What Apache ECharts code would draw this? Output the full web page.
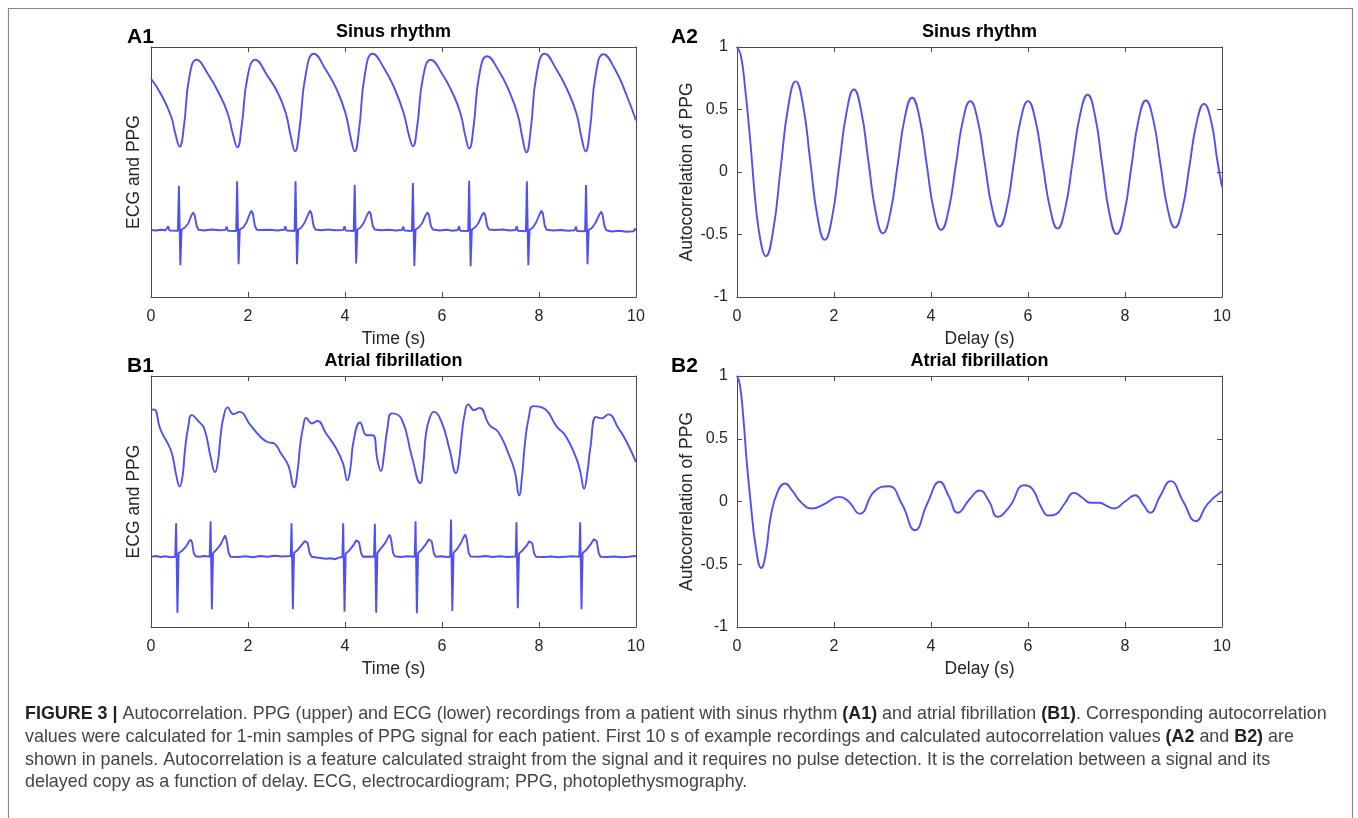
<!DOCTYPE html>
<html>
<head>
<meta charset="utf-8">
<title>Figure 3 - Autocorrelation</title>
<script src="https://cdn.jsdelivr.net/npm/echarts@6/dist/echarts.min.js"></script>
<style>
  html, body { margin: 0; padding: 0; background: #fff; }
  #chart { width: 1358px; height: 818px; }
</style>
</head>
<body>
<div id="chart"></div>
<script>
// time axis ticks (s), shared by all four panels
var timeTicks = [0, 2, 4, 6, 8, 10];
var corrTicks = [-1, -0.5, 0, 0.5, 1];

// A1: sinus rhythm, PPG (upper) and ECG (lower), arbitrary units 0-100
var sinusPpg = [
  [0, 87.3], [0.2, 81.3], [0.41, 72.5], [0.5, 65.5], [0.59, 60.2],
  [0.68, 68.5], [0.79, 88], [0.94, 94.9], [1.18, 89], [1.4, 81.5], [1.58, 73.5], [1.69, 65], [1.78, 59.9],
  [1.87, 68.5], [1.99, 88], [2.15, 94.9], [2.4, 88.5], [2.62, 81.5], [2.78, 73.5], [2.88, 64.5], [2.97, 58.3],
  [3.06, 67], [3.19, 89], [3.36, 97.3], [3.6, 91], [3.83, 83], [4.01, 73.5], [4.12, 63.5], [4.2, 58.3],
  [4.29, 67], [4.41, 89], [4.57, 97.3], [4.82, 91], [5.03, 83], [5.21, 73.5], [5.32, 64.5], [5.4, 60.3],
  [5.49, 68.5], [5.61, 88], [5.77, 94.9], [6.01, 89], [6.22, 81.5], [6.38, 73.5], [6.48, 64.5], [6.56, 59.4],
  [6.65, 68], [6.77, 89], [6.93, 96.3], [7.17, 90.5], [7.38, 82.5], [7.56, 73], [7.66, 63.5], [7.74, 57.8],
  [7.83, 67], [7.95, 89], [8.12, 97.3], [8.36, 91], [8.58, 83], [8.77, 73.5], [8.88, 63.5], [8.96, 58.3],
  [9.05, 67], [9.17, 89], [9.33, 97.1], [9.57, 91], [9.8, 81], [10, 70.6]
];
var sinusEcg = [
  [0, 26.8], [0.1, 26.6], [0.2, 26.9], [0.3, 26.7], [0.33, 26.9], [0.355, 28.3], [0.38, 26.6], [0.555, 26.5],
  [0.575, 44.5], [0.605, 12.7], [0.63, 27.0], [0.7, 27.8], [0.77, 29.5], [0.83, 32.5], [0.87, 33.8], [0.9, 32.8], [0.94, 28.5], [0.98, 26.9],
  [1.1, 26.6], [1.25, 27.0], [1.4, 26.7], [1.53, 26.8], [1.56, 28.2], [1.585, 26.5], [1.756, 26.4],
  [1.776, 46.3], [1.806, 13.1], [1.831, 27.0], [1.9, 27.8], [1.97, 29.8], [2.03, 33.0], [2.07, 34.5], [2.1, 33.4], [2.14, 28.6], [2.18, 26.9],
  [2.3, 26.8], [2.45, 26.9], [2.6, 26.6], [2.745, 26.9], [2.77, 28.3], [2.795, 26.6], [2.96, 26.4],
  [2.98, 46.3], [3.01, 13.1], [3.035, 27.0], [3.1, 27.8], [3.17, 29.8], [3.24, 33.0], [3.28, 34.5], [3.31, 33.4], [3.35, 28.6], [3.39, 27.0],
  [3.5, 26.7], [3.65, 27.0], [3.8, 26.7], [3.965, 26.8], [3.99, 28.3], [4.015, 26.6], [4.18, 26.4],
  [4.2, 44.9], [4.23, 13.4], [4.255, 27.0], [4.32, 27.8], [4.39, 29.8], [4.46, 33.0], [4.5, 34.2], [4.53, 33.2], [4.57, 28.6], [4.61, 27.0],
  [4.75, 26.7], [4.9, 26.9], [5.05, 26.6], [5.175, 26.8], [5.2, 28.2], [5.225, 26.6], [5.38, 26.4],
  [5.4, 45.6], [5.43, 12.4], [5.455, 27.0], [5.52, 27.8], [5.59, 29.5], [5.66, 32.6], [5.7, 33.8], [5.73, 32.8], [5.77, 28.5], [5.81, 27.0],
  [5.95, 26.6], [6.1, 26.9], [6.22, 26.5], [6.325, 26.8], [6.35, 28.3], [6.375, 26.5], [6.54, 26.4],
  [6.56, 46.5], [6.59, 12.3], [6.615, 27.0], [6.68, 27.8], [6.75, 29.5], [6.82, 32.6], [6.86, 33.8], [6.89, 32.8], [6.93, 28.5], [6.97, 27.0],
  [7.1, 26.8], [7.25, 27.0], [7.4, 26.6], [7.515, 26.8], [7.54, 28.3], [7.565, 26.5], [7.73, 26.3],
  [7.75, 46.3], [7.78, 12.7], [7.805, 26.9], [7.87, 27.7], [7.94, 29.8], [8.01, 33.0], [8.05, 34.5], [8.08, 33.4], [8.12, 28.4], [8.16, 26.9],
  [8.3, 26.6], [8.45, 26.8], [8.6, 26.5], [8.735, 26.7], [8.76, 28.2], [8.785, 26.4], [8.95, 26.3],
  [8.97, 44.8], [9.0, 13.1], [9.025, 26.8], [9.09, 27.6], [9.16, 29.5], [9.24, 32.8], [9.28, 34.1], [9.31, 33.0], [9.35, 28.3], [9.39, 26.7],
  [9.5, 26.2], [9.65, 26.5], [9.8, 26.1], [9.95, 26.3], [9.98, 27.3], [10, 26.6]
];

// A2: autocorrelation of PPG, sinus rhythm
var sinusCorr = [
  [0, 1.0], [0.08, 0.93], [0.165, 0.68], [0.28, 0.22], [0.39, -0.28], [0.5, -0.58], [0.59, -0.674],
  [0.745, -0.47], [0.9, 0.03], [1.055, 0.52], [1.21, 0.725],
  [1.36, 0.54], [1.51, 0.09], [1.66, -0.36], [1.81, -0.543],
  [1.96, -0.365], [2.11, 0.06], [2.26, 0.48], [2.41, 0.66],
  [2.56, 0.49], [2.71, 0.085], [2.86, -0.32], [3.01, -0.49],
  [3.16, -0.33], [3.31, 0.05], [3.46, 0.435], [3.61, 0.594],
  [3.76, 0.44], [3.91, 0.066], [4.06, -0.31], [4.21, -0.463],
  [4.36, -0.31], [4.51, 0.05], [4.66, 0.416], [4.81, 0.567],
  [4.96, 0.42], [5.11, 0.066], [5.26, -0.29], [5.41, -0.436],
  [5.56, -0.29], [5.705, 0.066], [5.85, 0.42], [6.0, 0.567],
  [6.15, 0.42], [6.305, 0.058], [6.46, -0.30], [6.61, -0.452],
  [6.765, -0.295], [6.92, 0.083], [7.075, 0.46], [7.23, 0.618],
  [7.38, 0.454], [7.53, 0.06], [7.68, -0.334], [7.83, -0.497],
  [7.98, -0.34], [8.13, 0.038], [8.28, 0.416], [8.43, 0.572],
  [8.58, 0.423], [8.73, 0.064], [8.88, -0.295], [9.03, -0.444],
  [9.18, -0.3], [9.33, 0.05], [9.48, 0.40], [9.63, 0.545],
  [9.78, 0.40], [9.9, 0.1], [10, -0.118]
];

// B1: atrial fibrillation, PPG (upper) and ECG (lower)
var afibPpg = [
  [0, 86.4], [0.06, 86.7], [0.2, 78.4], [0.41, 70.4], [0.52, 60.5], [0.59, 56], [0.65, 60], [0.7, 70.4],
  [0.77, 80], [0.84, 84.4], [0.99, 81.7], [1.1, 79], [1.23, 67.7], [1.32, 61.7], [1.38, 66], [1.44, 77],
  [1.5, 84], [1.58, 87.5], [1.7, 84.8], [1.82, 85.7], [2.05, 80.4], [2.26, 75.7], [2.4, 73.7], [2.54, 73.1],
  [2.68, 69.1], [2.83, 64.4], [2.95, 55.7], [3.02, 62], [3.08, 73.1], [3.14, 80], [3.2, 83.3], [3.32, 81.1],
  [3.43, 82.1], [3.61, 77.1], [3.82, 71.1], [3.96, 65.1], [4.05, 58.4], [4.11, 63], [4.18, 74.4], [4.31, 81.5],
  [4.45, 76.4], [4.57, 76.4], [4.67, 66.4], [4.74, 62.1], [4.8, 68], [4.87, 78.4], [4.97, 85.1], [5.17, 82.7],
  [5.38, 67.7], [5.55, 57.3], [5.61, 64], [5.67, 77], [5.75, 83.5], [5.83, 85.7], [5.99, 81.7], [6.16, 70.4],
  [6.29, 61.3], [6.35, 66], [6.41, 77], [6.47, 85], [6.54, 88.7], [6.66, 86.4], [6.77, 87.3], [6.98, 80.4],
  [7.16, 77.7], [7.37, 69.1], [7.5, 62], [7.59, 52.4], [7.65, 60], [7.71, 73.1], [7.79, 83.5], [7.88, 88],
  [8.1, 87.1], [8.37, 79.7], [8.54, 76.4], [8.76, 67.7], [8.85, 62], [8.93, 55.1], [9.0, 62], [9.06, 71.7],
  [9.18, 83.7], [9.29, 83.1], [9.43, 84.7], [9.64, 79.1], [9.79, 74.4], [10, 65.7]
];
var afibEcg = [
  [0, 28.0], [0.1, 28.3], [0.2, 27.9], [0.3, 28.2], [0.4, 27.8], [0.5, 28.0],
  [0.518, 41.3], [0.545, 5.7], [0.57, 29.5], [0.65, 30.5], [0.72, 32.0], [0.78, 34.0], [0.82, 34.8], [0.85, 33.5], [0.88, 29.5], [0.92, 28.2],
  [1.0, 28.0], [1.1, 28.3], [1.21, 28.0],
  [1.229, 42.1], [1.255, 7.1], [1.28, 29.5], [1.36, 31.0], [1.44, 33.0], [1.5, 35.5], [1.53, 36.4], [1.56, 34.5], [1.6, 29.5], [1.64, 28.0],
  [1.8, 27.9], [1.95, 28.2], [2.1, 27.8], [2.25, 28.3], [2.4, 28.0], [2.55, 28.4], [2.7, 28.1], [2.88, 28.3],
  [2.898, 41.3], [2.925, 7.1], [2.95, 29.5], [3.03, 30.8], [3.1, 32.5], [3.17, 34.2], [3.2, 34.8], [3.23, 33.5], [3.27, 29.5], [3.31, 28.0],
  [3.45, 27.6], [3.6, 27.2], [3.7, 27.4], [3.8, 27.0], [3.9, 27.8], [3.945, 27.8],
  [3.963, 41.3], [3.99, 6.1], [4.015, 29.3], [4.09, 30.5], [4.17, 32.5], [4.23, 34.5], [4.26, 35.1], [4.29, 33.8], [4.33, 29.5], [4.37, 28.0],
  [4.5, 28.1], [4.598, 28.0],
  [4.616, 41.1], [4.643, 5.7], [4.668, 29.5], [4.75, 31.5], [4.83, 33.5], [4.89, 35.8], [4.92, 36.7], [4.95, 35.0], [4.99, 29.5], [5.03, 28.2],
  [5.15, 27.9], [5.3, 28.2], [5.437, 28.0],
  [5.455, 42.1], [5.482, 5.5], [5.507, 29.5], [5.58, 30.8], [5.66, 32.8], [5.73, 35.0], [5.76, 35.5], [5.79, 34.0], [5.83, 29.5], [5.87, 28.0],
  [6.0, 28.2], [6.1, 27.9], [6.168, 28.0],
  [6.186, 42.8], [6.213, 6.4], [6.238, 29.5], [6.31, 31.0], [6.39, 33.5], [6.45, 36.0], [6.48, 36.8], [6.51, 35.0], [6.55, 29.5], [6.59, 28.1],
  [6.75, 28.0], [6.9, 28.3], [7.05, 27.9], [7.2, 28.2], [7.35, 27.9], [7.518, 28.1],
  [7.536, 41.7], [7.563, 7.5], [7.588, 29.3], [7.66, 30.5], [7.74, 32.3], [7.8, 34.2], [7.83, 34.7], [7.86, 33.4], [7.9, 29.3], [7.94, 28.0],
  [8.1, 27.9], [8.25, 28.1], [8.4, 27.8], [8.55, 28.0], [8.7, 28.2], [8.831, 28.0],
  [8.849, 41.7], [8.876, 7.1], [8.9, 29.5], [8.98, 30.8], [9.06, 32.8], [9.13, 35.0], [9.16, 35.7], [9.19, 34.2], [9.23, 29.5], [9.27, 28.0],
  [9.4, 27.9], [9.55, 28.1], [9.7, 27.8], [9.85, 28.0], [9.98, 28.3], [10, 28.2]
];

// B2: autocorrelation of PPG, atrial fibrillation
var afibCorr = [
  [0, 1.0], [0.06, 0.93], [0.13, 0.67], [0.2, 0.32], [0.28, 0.0], [0.39, -0.37], [0.5, -0.53], [0.6, -0.4],
  [0.69, -0.13], [0.84, 0.08], [0.99, 0.144], [1.15, 0.08], [1.33, -0.01], [1.55, -0.056], [1.8, -0.02],
  [2.11, 0.037], [2.3, 0.0], [2.53, -0.098], [2.83, 0.08], [3.13, 0.122], [3.4, -0.02], [3.67, -0.229],
  [3.92, -0.02], [4.18, 0.157], [4.37, 0.04], [4.55, -0.09], [4.8, 0.02], [5.0, 0.088], [5.2, 0.0],
  [5.37, -0.122], [5.62, -0.04], [5.92, 0.13], [6.09, 0.1], [6.28, -0.05], [6.42, -0.112], [6.58, -0.1],
  [6.75, -0.02], [6.95, 0.069], [7.12, 0.03], [7.29, -0.01], [7.47, -0.01], [7.6, -0.03], [7.77, -0.056],
  [8.0, 0.0], [8.21, 0.05], [8.37, -0.02], [8.52, -0.09], [8.72, 0.04], [8.94, 0.162], [9.2, 0.0],
  [9.46, -0.157], [9.7, -0.02], [10, 0.082]
];

var panelTitles = ['Sinus rhythm', 'Sinus rhythm', 'Atrial fibrillation', 'Atrial fibrillation'];
var panelLabels = ['A1', 'A2', 'B1', 'B2'];

var FONT = '"Liberation Sans", Arial, Helvetica, sans-serif';
var AXIS_COLOR = '#4a4a4a';
var TEXT_COLOR = '#262626';
var LINE_COLOR = '#5050f2';

var grids = [
  { left: 151, top: 47, width: 485, height: 250 },
  { left: 737, top: 47, width: 485, height: 250 },
  { left: 151, top: 376, width: 485, height: 251 },
  { left: 737, top: 376, width: 485, height: 251 }
];
// where the bold panel letter sits, left of each grid
var labelOffsets = [24, 66, 24, 66];

// x axes: bottom one carries the labels, top one only repeats the ticks (matlab box)
function timeAxis(gridIndex, name, onTop) {
  return {
    type: 'value', gridIndex: gridIndex, position: onTop ? 'top' : 'bottom',
    min: timeTicks[0], max: timeTicks[timeTicks.length - 1], interval: timeTicks[1] - timeTicks[0],
    name: onTop ? '' : name, nameLocation: 'middle', nameGap: 33,
    nameTextStyle: { fontFamily: FONT, fontSize: 17.5, color: TEXT_COLOR },
    axisLine: { show: true, onZero: false, lineStyle: { color: AXIS_COLOR, width: 1 } },
    axisTick: { show: true, inside: true, length: 5, lineStyle: { color: AXIS_COLOR, width: 1 } },
    axisLabel: { show: !onTop, margin: 12, fontFamily: FONT, fontSize: 16, color: TEXT_COLOR },
    splitLine: { show: false }
  };
}

// left signal axis has no scale at all
function signalAxis(gridIndex, onRight) {
  return {
    type: 'value', gridIndex: gridIndex, position: onRight ? 'right' : 'left',
    min: 0, max: 100,
    name: onRight ? '' : 'ECG and PPG', nameLocation: 'middle', nameGap: 8,
    nameTextStyle: { fontFamily: FONT, fontSize: 17.5, color: TEXT_COLOR },
    axisLine: { show: true, onZero: false, lineStyle: { color: AXIS_COLOR, width: 1 } },
    axisTick: { show: false },
    axisLabel: { show: false },
    splitLine: { show: false }
  };
}

function corrAxis(gridIndex, onRight) {
  return {
    type: 'value', gridIndex: gridIndex, position: onRight ? 'right' : 'left',
    min: corrTicks[0], max: corrTicks[corrTicks.length - 1], interval: corrTicks[1] - corrTicks[0],
    name: onRight ? '' : 'Autocorrelation of PPG', nameLocation: 'middle', nameGap: 39,
    nameTextStyle: { fontFamily: FONT, fontSize: 17.5, color: TEXT_COLOR },
    axisLine: { show: true, onZero: false, lineStyle: { color: AXIS_COLOR, width: 1 } },
    axisTick: { show: true, inside: true, length: 5, lineStyle: { color: AXIS_COLOR, width: 1 } },
    axisLabel: { show: !onRight, margin: 9, fontFamily: FONT, fontSize: 16, color: TEXT_COLOR },
    splitLine: { show: false }
  };
}

function trace(index, data, smooth) {
  return {
    type: 'line', xAxisIndex: index, yAxisIndex: index, data: data,
    symbol: 'none', showSymbol: false, smooth: smooth,
    lineStyle: { color: LINE_COLOR, width: 1.9 }, silent: true, animation: false
  };
}

var graphics = [
  // outer figure frame
  { type: 'rect', shape: { x: 8.5, y: 8.5, width: 1344, height: 830 },
    style: { fill: 'none', stroke: '#8a8a8a', lineWidth: 1.2 } }
];
for (var i = 0; i < grids.length; i++) {
  var g = grids[i];
  graphics.push({
    type: 'text', x: g.left + g.width / 2, y: g.top - 15,
    style: { text: panelTitles[i], font: 'bold 18px ' + FONT, fill: '#000',
      textAlign: 'center', textVerticalAlign: 'middle', align: 'center', verticalAlign: 'middle' }
  });
  graphics.push({
    type: 'text', x: g.left - labelOffsets[i], y: g.top - 10,
    style: { text: panelLabels[i], font: 'bold 21px ' + FONT, fill: '#000',
      textAlign: 'left', textVerticalAlign: 'middle', align: 'left', verticalAlign: 'middle' }
  });
}

// caption
var captionLines = [
  '{b|FIGURE 3 |} Autocorrelation. PPG (upper) and ECG (lower) recordings from a patient with sinus rhythm {b|(A1)} and atrial fibrillation {b|(B1)}. Corresponding autocorrelation',
  'values were calculated for 1-min samples of PPG signal for each patient. First 10 s of example recordings and calculated autocorrelation values {b|(A2} and {b|B2)} are',
  'shown in panels. Autocorrelation is a feature calculated straight from the signal and it requires no pulse detection. It is the correlation between a signal and its',
  'delayed copy as a function of delay. ECG, electrocardiogram; PPG, photoplethysmography.'
];
graphics.push({
  type: 'text', x: 25, y: 703,
  style: {
    text: captionLines.join('\n'),
    font: '17.9px ' + FONT, fill: '#444', lineHeight: 22.7,
    textAlign: 'left', textVerticalAlign: 'top', align: 'left', verticalAlign: 'top',
    rich: {
      b: { fontFamily: FONT, fontSize: 17.9, fontWeight: 'bold', fill: '#222', lineHeight: 22.7 }
    }
  }
});

var chart = echarts.init(document.getElementById('chart'), null, { renderer: 'canvas' });
chart.setOption({
  backgroundColor: '#fff',
  animation: false,
  grid: grids,
  xAxis: [
    timeAxis(0, 'Time (s)', false), timeAxis(1, 'Delay (s)', false),
    timeAxis(2, 'Time (s)', false), timeAxis(3, 'Delay (s)', false),
    timeAxis(0, '', true), timeAxis(1, '', true), timeAxis(2, '', true), timeAxis(3, '', true)
  ],
  yAxis: [
    signalAxis(0, false), corrAxis(1, false), signalAxis(2, false), corrAxis(3, false),
    signalAxis(0, true), corrAxis(1, true), signalAxis(2, true), corrAxis(3, true)
  ],
  series: [
    trace(0, sinusPpg, 0.5),
    trace(0, sinusEcg, false),
    trace(1, sinusCorr, 0.5),
    trace(2, afibPpg, 0.5),
    trace(2, afibEcg, false),
    trace(3, afibCorr, 0.5)
  ],
  graphic: graphics
});
</script>
</body>
</html>
